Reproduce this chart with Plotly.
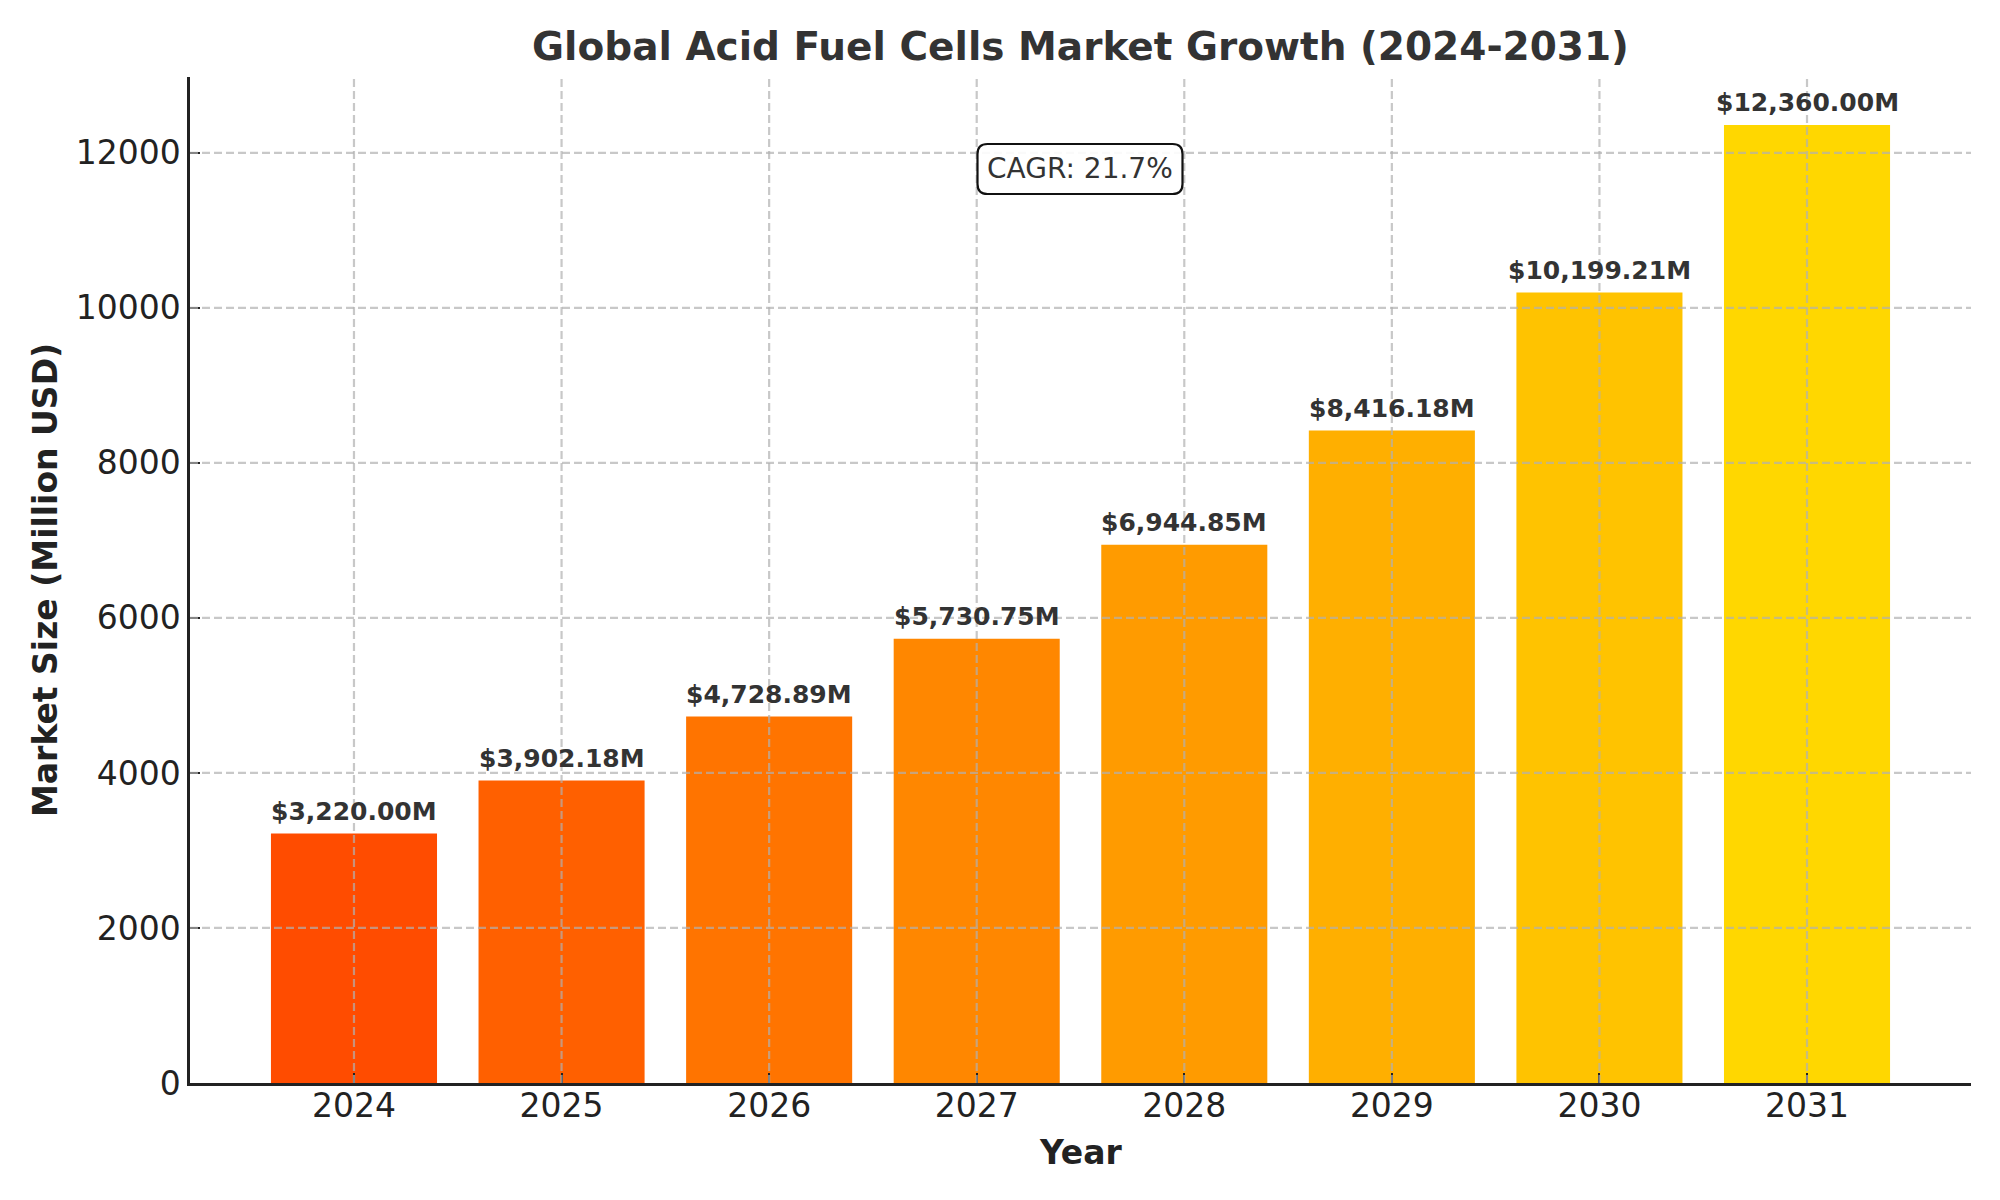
import plotly.graph_objects as go

years = [2024, 2025, 2026, 2027, 2028, 2029, 2030, 2031]
market_size = [3220.00, 3902.18, 4728.89, 5730.75, 6944.85, 8416.18, 10199.21, 12360.00]
bar_colors = ["#FF4C00", "#FF6000", "#FF7400", "#FF8700", "#FF9B00", "#FFAF00", "#FFC300", "#FFD700"]
y_ticks = [0, 2000, 4000, 6000, 8000, 10000, 12000]
cagr_text = "CAGR: 21.7%"
title_text = "Global Acid Fuel Cells Market Growth (2024-2031)"

FONT = "DejaVu Sans"
W, H = 2000, 1200
L, R, T, B = 190, 29, 77, 117
pw, ph = W - L - R, H - T - B

ymax = max(market_size) * 1.05
xr = [years[0] - 0.4 - 0.39, years[-1] + 0.4 + 0.39]

fig = go.Figure()
fig.add_trace(go.Bar(
    x=years, y=market_size, width=0.8,
    marker=dict(color=bar_colors, line=dict(width=0)),
    hoverinfo="x+y", showlegend=False,
))

annotations = []
for x, v in zip(years, market_size):
    annotations.append(dict(
        x=x, y=v, xref="x", yref="y", text=f"<b>${v:,.2f}M</b>",
        showarrow=False, yanchor="middle", yshift=22,
        font=dict(family=FONT, size=25, color="#333333"),
    ))

# axis titles
annotations.append(dict(
    x=(45 - L) / pw, y=0.5, xref="paper", yref="paper",
    text="<b>Market Size (Million USD)</b>", textangle=-90, showarrow=False,
    xanchor="center", yanchor="middle",
    font=dict(family=FONT, size=33, color="#222222"),
))
annotations.append(dict(
    x=0.5, y=-(1152 - (T + ph)) / ph, xref="paper", yref="paper",
    text="<b>Year</b>", showarrow=False, xanchor="center", yanchor="middle",
    font=dict(family=FONT, size=33, color="#222222"),
))

# CAGR box
cx, cy = (1080 - L) / pw, (T + ph - 169) / ph
annotations.append(dict(
    x=cx, y=cy, xref="paper", yref="paper", text=cagr_text, showarrow=False,
    xanchor="center", yanchor="middle",
    font=dict(family=FONT, size=28, color="#333333"),
))

bw, bh, rad = 205 / pw, 50 / ph, 10
rx, ry = rad / pw, rad / ph
x0, x1 = cx - bw / 2, cx + bw / 2
y0, y1 = cy - bh / 2, cy + bh / 2
path = (f"M {x0+rx},{y0} L {x1-rx},{y0} Q {x1},{y0} {x1},{y0+ry} "
        f"L {x1},{y1-ry} Q {x1},{y1} {x1-rx},{y1} L {x0+rx},{y1} "
        f"Q {x0},{y1} {x0},{y1-ry} L {x0},{y0+ry} Q {x0},{y0} {x0+rx},{y0} Z")

shapes = []
grid_line = dict(color="rgba(176,176,176,0.7)", width=2.2, dash="8px,4px")
for x in years:
    shapes.append(dict(type="line", xref="x", yref="paper", x0=x, x1=x, y0=0, y1=1,
                       line=grid_line, layer="above"))
for yv in y_ticks[1:]:
    shapes.append(dict(type="line", xref="paper", yref="y", x0=0, x1=1, y0=yv, y1=yv,
                       line=grid_line, layer="above"))
shapes.append(dict(type="path", xref="paper", yref="paper", path=path,
                   fillcolor="rgba(255,255,255,0.9)", line=dict(color="#111111", width=2.2),
                   layer="above"))

fig.update_layout(
    width=W, height=H,
    margin=dict(l=L, r=R, t=T, b=B, autoexpand=False),
    paper_bgcolor="white", plot_bgcolor="white",
    title=dict(text=f"<b>{title_text}</b>", x=(L + pw / 2) / W, xanchor="center",
               y=1 - 46 / H, yanchor="middle", yref="container",
               font=dict(family=FONT, size=39, color="#333333")),
    font=dict(family=FONT),
    bargap=0.2,
    annotations=annotations,
    shapes=shapes,
    xaxis=dict(
        range=xr, tickvals=years, ticktext=[str(y) for y in years],
        showgrid=False, zeroline=False,
        showline=True, linecolor="#222222", linewidth=2.5,
        ticks="inside", ticklen=10, tickwidth=2.2, tickcolor="#222222",
        tickfont=dict(family=FONT, size=33, color="#222222"),
        ticklabelstandoff=-8,
        layer="above traces",
    ),
    yaxis=dict(
        range=[0, ymax], tickvals=y_ticks, ticktext=[str(v) for v in y_ticks],
        showgrid=False, zeroline=False,
        showline=True, linecolor="#222222", linewidth=2.5,
        ticks="inside", ticklen=10, tickwidth=2.2, tickcolor="#222222",
        tickfont=dict(family=FONT, size=33, color="#222222"),
        layer="above traces",
    ),
)

fig.write_html("out.html")
